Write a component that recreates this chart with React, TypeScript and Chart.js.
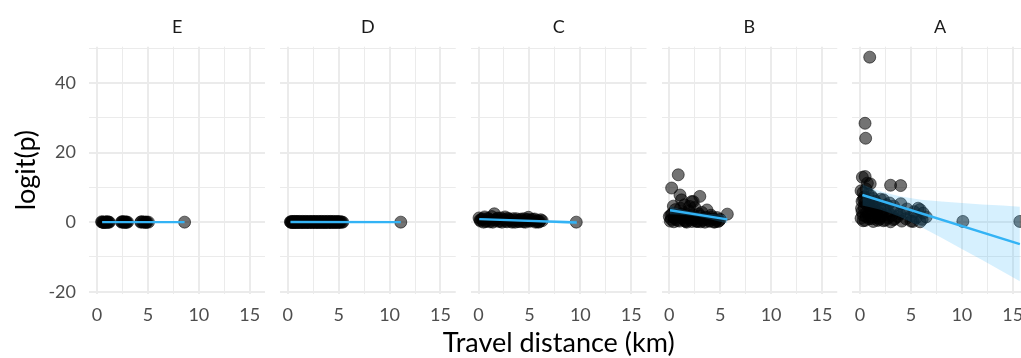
import React, { useEffect, useRef } from "react";
import { Chart, registerables } from "chart.js";

Chart.register(...registerables);

// ---------- tick labels / axis text ----------
const facetLabels = ["E", "D", "C", "B", "A"];
const xTickValues = [0, 2.5, 5, 7.5, 10, 12.5, 15];
const xLabeledTicks = [0, 5, 10, 15];
const yTickValues = [-20, -10, 0, 10, 20, 30, 40, 50];
const yLabeledTicks = [-20, 0, 20, 40];
const xLimits = [-0.76, 16.5];
const yLimits = [-20.5, 50.4];
const xTitle = "Travel distance (km)";
const yTitle = "logit(p)";

// ---------- facet E ----------
const eDist = [0.45, 0.5, 0.6, 0.65, 0.75, 0.85, 0.9, 1.0, 1.05, 1.15, 1.2, 2.4, 2.45, 2.55, 2.6, 2.7, 2.75, 2.85, 2.9, 3.0, 4.3, 4.35, 4.5, 4.6, 4.75, 4.8, 4.9, 5.05, 8.6];
const eLogit = [0.1, 0, 0, -0.1, -0.1, 0.1, 0, 0, 0.05, 0, 0, 0, 0.1, 0.1, 0, -0.05, 0.05, 0, 0, 0, 0, 0.1, 0.05, 0, -0.05, 0, 0, 0, 0];
const eFitDist = [0.5, 8.6];
const eFitLogit = [0, 0];

// ---------- facet D ----------
const dDist = [0.26, 0.3, 0.35, 0.4, 0.45, 0.5, 0.55, 0.6, 0.65, 0.7, 0.75, 0.8, 0.85, 0.9, 0.95, 1.0, 1.05, 1.1, 1.15, 1.2, 1.3, 1.35, 1.4, 1.45, 1.5, 1.55, 1.6, 1.7, 1.75, 1.8, 1.85, 1.9, 1.95, 2.0, 2.1, 2.15, 2.2, 2.25, 2.3, 2.4, 2.45, 2.5, 2.55, 2.6, 2.7, 2.75, 2.8, 2.85, 2.9, 3.0, 3.05, 3.1, 3.15, 3.2, 3.3, 3.35, 3.4, 3.45, 3.5, 3.6, 3.65, 3.7, 3.75, 3.8, 3.9, 3.95, 4.0, 4.1, 4.15, 4.2, 4.25, 4.3, 4.4, 4.45, 4.5, 4.6, 4.65, 4.7, 4.8, 4.85, 4.9, 5.0, 5.05, 5.1, 5.2, 5.3, 5.4, 11.1];
const dLogit = [0.1, 0, -0.1, 0.2, 0, 0.1, -0.1, 0, 0.2, 0, -0.1, 0.1, 0, 0.2, 0, -0.1, 0.1, 0, 0.2, 0, -0.1, 0, 0.1, 0.2, 0, -0.1, 0, 0.1, 0.2, 0, -0.1, 0, 0.1, 0, 0.2, -0.1, 0, 0.1, 0, 0.2, -0.1, 0, 0.1, 0, 0.2, 0, -0.1, 0.1, 0, 0.2, -0.1, 0, 0.1, 0, 0.2, 0, -0.1, 0.1, 0, 0.2, 0, -0.1, 0, 0.1, 0.2, 0, -0.1, 0.1, 0, 0.2, 0, -0.1, 0.1, 0, 0.2, 0, -0.1, 0, 0.1, 0.2, 0, -0.1, 0.1, 0, 0.1, 0, 0, 0];
const dFitDist = [0.26, 11.1];
const dFitLogit = [0.05, 0];

// ---------- facet C ----------
const cDist = [0.05, 0.2, 0.3, 0.5, 0.6, 0.8, 1.0, 1.1, 1.3, 1.55, 1.6, 1.8, 2.0, 2.2, 2.4, 2.6, 2.8, 3.0, 3.2, 3.4, 3.6, 3.8, 4.0, 4.2, 4.4, 4.7, 4.9, 5.1, 5.3, 5.6, 5.8, 6.0, 6.25, 0.15, 0.4, 0.7, 0.9, 1.2, 1.4, 1.7, 1.9, 2.1, 2.3, 2.5, 2.7, 2.9, 3.1, 3.3, 3.5, 3.7, 3.9, 4.1, 4.3, 4.5, 4.6, 4.8, 5.0, 5.2, 5.5, 5.7, 5.9, 6.1, 9.6];
const cLogit = [1.2, 0.3, 0.8, 0.0, 1.5, 0.4, 0.9, 0.1, 1.6, 2.4, 0.5, 1.0, 0.2, 1.2, 0.6, 1.5, 0.1, 0.8, 0.3, 1.0, 0.0, 0.6, 0.2, 0.9, 0.1, 0.5, 1.4, 0.3, 0.8, 0.0, 0.5, 0.2, 0.4, 0.6, 1.0, 0.2, 1.1, 0.5, 0.0, 0.7, 1.2, 0.4, 0.0, 0.9, 0.3, 1.1, 0.6, 0.0, 0.5, 1.0, 0.2, 0.7, 0.4, 1.0, 0.0, 0.8, 0.3, 0.6, 0.9, 0.2, 0.0, 0.7, 0.0];
const cFitDist = [0.07, 9.65];
const cFitLogit = [0.86, -0.1];
const cBandDist = [0.07, 2, 4, 6, 8, 9.65];
const cBandLow = [0.6, 0.48, 0.28, 0.0, -0.4, -0.7];
const cBandHigh = [1.12, 0.84, 0.64, 0.52, 0.52, 0.5];

// ---------- facet B ----------
const bDist = [0.88, 0.23, 1.05, 3.0, 1.2, 2.2, 2.35, 1.5, 3.7, 5.7, 0.0, 0.1, 0.3, 0.5, 0.6, 0.8, 0.9, 1.1, 1.3, 1.4, 1.6, 1.8, 1.9, 2.1, 2.3, 2.5, 2.6, 2.8, 3.0, 3.2, 3.4, 3.6, 3.9, 4.1, 4.3, 4.5, 4.7, 4.9, 5.0, 0.4, 2.0, 0.2, 0.45, 0.7, 1.0, 1.25, 1.5, 1.7, 2.0, 2.2, 2.4, 2.7, 2.9, 3.1, 3.3, 3.5, 3.8, 4.0, 4.2, 4.4, 4.6, 4.8, 0.15, 0.65, 1.15, 1.65, 2.15, 2.65, 3.25];
const bLogit = [13.6, 9.8, 7.8, 7.4, 6.4, 5.9, 5.9, 5.0, 3.5, 2.3, 1.6, 0.3, 2.5, 1.2, 3.6, 0.5, 2.0, 4.0, 1.1, 2.8, 0.2, 1.6, 3.3, 0.7, 2.2, 4.2, 1.0, 0.2, 1.8, 2.8, 0.6, 1.4, 0.3, 2.0, 0.9, 0.1, 1.3, 0.4, 0.8, 4.6, 4.5, 0.8, 0.1, 1.5, 0.3, 2.2, 0.6, 0.0, 1.2, 0.2, 0.9, 0.4, 2.4, 0.1, 1.1, 0.0, 0.8, 0.3, 1.5, 0.0, 0.5, 0.2, 2.0, 0.9, 1.7, 0.4, 1.3, 0.2, 0.5];
const bFitDist = [0.07, 5.7];
const bFitLogit = [3.4, 0.8];
const bBandDist = [0.07, 1, 2, 3, 4, 5, 5.7];
const bBandLow = [2.3, 2.17, 1.91, 1.45, 0.84, 0.13, -0.4];
const bBandHigh = [4.5, 3.77, 3.11, 2.65, 2.34, 2.13, 2.0];

// ---------- facet A ----------
const aDist = [0.95, 0.49, 0.55, 0.23, 0.5, 0.72, 1.0, 3.0, 3.99, 0.1, 0.3, 0.6, 0.4, 0.2, 0.8, 1.1, 1.3, 0.5, 0.9, 0.15, 1.5, 1.7, 2.0, 2.3, 2.6, 2.9, 1.2, 0.7, 0.3, 0.1, 1.65, 2.1, 2.4, 3.3, 3.6, 4.0, 4.3, 4.6, 5.0, 5.3, 5.7, 5.9, 6.2, 6.5, 1.3, 0.9, 1.9, 2.3, 2.8, 3.3, 3.7, 4.1, 4.5, 5.0, 5.2, 5.5, 5.9, 6.1, 0.5, 1.5, 2.6, 3.0, 0.2, 0.4, 0.6, 0.8, 1.0, 1.2, 1.4, 1.6, 1.8, 2.0, 2.2, 2.5, 2.7, 3.1, 3.4, 3.9, 0.3, 0.7, 1.1, 1.4, 0.35, 0.85, 1.25, 1.75, 10.1, 15.7];
const aLogit = [47.4, 28.4, 24.1, 12.9, 13.1, 11.2, 11.0, 10.6, 10.5, 9.0, 8.5, 9.5, 7.2, 6.0, 8.0, 7.5, 6.8, 5.5, 4.8, 4.0, 6.0, 5.2, 6.6, 6.4, 5.0, 5.5, 3.6, 2.8, 2.0, 1.1, 3.0, 2.4, 3.6, 4.6, 3.2, 5.3, 2.6, 3.8, 1.8, 3.0, 4.0, 3.6, 2.6, 1.5, 0.2, 1.0, 0.8, 0.4, 1.3, 0.7, 1.6, 0.3, 1.0, 0.3, 0.2, 1.2, 0.1, 0.8, 0.5, 1.8, 2.2, 0.1, 3.0, 4.2, 1.6, 2.2, 3.4, 1.0, 4.4, 2.5, 1.2, 3.6, 1.9, 0.6, 3.1, 2.0, 1.0, 2.4, 0.4, 5.0, 1.4, 3.8, 6.5, 6.0, 4.6, 0.5, 0.2, 0.2];
const aFitDist = [0.23, 15.7];
const aFitLogit = [7.8, -6.3];
const aBandDist = [0.23, 1, 2, 3, 4, 6, 8, 10, 12, 14, 15.7];
const aBandLow = [4.8, 4.3, 3.55, 2.55, 1.4, -1.4, -4.5, -7.7, -10.9, -14.2, -17.0];
const aBandHigh = [10.8, 9.9, 8.85, 8.05, 7.4, 6.4, 5.9, 5.5, 5.1, 4.8, 4.4];

// ---------- layout & style (not data) ----------
const CANVAS_W = 1040;
const CANVAS_H = 358;
const PANEL_LEFT0 = 89.3;
const PANEL_STEP = 190.75;
const PANEL_W = 175.7;
const PANEL_TOP = 46.7;
const PANEL_BOTTOM = 293.5;
const FONT = "Lato, 'Open Sans', sans-serif";
const GRID = "#EBEBEB";
const POINT_FILL = "rgba(0,0,0,0.55)";
const POINT_EDGE = "rgba(0,0,0,0.55)";
const LINE_COLOR = "#33B3F5";
const BAND_COLOR = "rgba(51,181,250,0.2)";

type Facet = {
  label: string;
  dist: number[];
  logit: number[];
  fitDist: number[];
  fitLogit: number[];
  bandDist?: number[];
  bandLow?: number[];
  bandHigh?: number[];
};

const facets: Facet[] = [
  { label: facetLabels[0], dist: eDist, logit: eLogit, fitDist: eFitDist, fitLogit: eFitLogit },
  { label: facetLabels[1], dist: dDist, logit: dLogit, fitDist: dFitDist, fitLogit: dFitLogit },
  { label: facetLabels[2], dist: cDist, logit: cLogit, fitDist: cFitDist, fitLogit: cFitLogit, bandDist: cBandDist, bandLow: cBandLow, bandHigh: cBandHigh },
  { label: facetLabels[3], dist: bDist, logit: bLogit, fitDist: bFitDist, fitLogit: bFitLogit, bandDist: bBandDist, bandLow: bBandLow, bandHigh: bBandHigh },
  { label: facetLabels[4], dist: aDist, logit: aLogit, fitDist: aFitDist, fitLogit: aFitLogit, bandDist: aBandDist, bandLow: aBandLow, bandHigh: aBandHigh },
];

const toXY = (xs: number[], ys: number[]) => xs.map((x, i) => ({ x, y: ys[i] }));

const xTitlePlugin = {
  id: "facetXTitle",
  afterDraw(chart: any) {
    const { ctx, chartArea } = chart;
    ctx.save();
    ctx.font = `27px ${FONT}`;
    ctx.fillStyle = "#000000";
    ctx.textAlign = "center";
    ctx.textBaseline = "alphabetic";
    ctx.fillText(xTitle, (chartArea.left + chartArea.right) / 2, 352);
    ctx.restore();
  },
};

function buildConfig(f: Facet, i: number): any {
  const panelLeft = PANEL_LEFT0 + i * PANEL_STEP;
  const first = i === 0;
  const datasets: any[] = [];
  datasets.push({
    type: "line",
    data: toXY(f.fitDist, f.fitLogit),
    borderColor: LINE_COLOR,
    borderWidth: 2.4,
    pointRadius: 0,
    fill: false,
    order: 0,
  });
  if (f.bandDist && f.bandLow && f.bandHigh) {
    datasets.push({
      type: "line",
      data: toXY(f.bandDist, f.bandHigh),
      borderWidth: 0,
      borderColor: "rgba(0,0,0,0)",
      backgroundColor: BAND_COLOR,
      pointRadius: 0,
      fill: "+1",
      order: 1,
    });
    datasets.push({
      type: "line",
      data: toXY(f.bandDist, f.bandLow),
      borderWidth: 0,
      borderColor: "rgba(0,0,0,0)",
      pointRadius: 0,
      fill: false,
      order: 1,
    });
  }
  datasets.push({
    type: "scatter",
    data: toXY(f.dist, f.logit),
    pointRadius: 6,
    pointHoverRadius: 6,
    backgroundColor: POINT_FILL,
    borderColor: POINT_EDGE,
    borderWidth: 1,
    order: 5,
  });

  return {
    type: "scatter",
    data: { datasets },
    plugins: i === 2 ? [xTitlePlugin] : [],
    options: {
      animation: false,
      responsive: false,
      devicePixelRatio: 1,
      events: [],
      layout: {
        padding: {
          left: first ? 0 : panelLeft,
          right: CANVAS_W - (panelLeft + PANEL_W),
          top: 0,
          bottom: 0,
        },
      },
      plugins: {
        legend: { display: false },
        tooltip: { enabled: false },
        title: {
          display: true,
          text: f.label,
          fullSize: false,
          color: "#1A1A1A",
          font: { family: FONT, size: 18, weight: "normal" },
          padding: { top: 15.9, bottom: PANEL_TOP - 21.6 - 15.9 },
        },
      },
      scales: {
        x: {
          type: "linear",
          min: xLimits[0],
          max: xLimits[1],
          afterBuildTicks: (s: any) => {
            s.ticks = xTickValues.map((v) => ({ value: v }));
          },
          afterFit: (s: any) => {
            s.height = CANVAS_H - PANEL_BOTTOM;
          },
          border: { display: false },
          grid: {
            color: GRID,
            drawTicks: false,
            lineWidth: (c: any) => (c.tick && xLabeledTicks.includes(c.tick.value) ? 2 : 1),
          },
          ticks: {
            autoSkip: false,
            maxRotation: 0,
            minRotation: 0,
            padding: 10.7,
            color: "#4D4D4D",
            font: { family: FONT, size: 18 },
            callback: (v: any) => (xLabeledTicks.includes(v) ? String(v) : ""),
          },
        },
        y: {
          type: "linear",
          min: yLimits[0],
          max: yLimits[1],
          afterBuildTicks: (s: any) => {
            s.ticks = yTickValues.map((v) => ({ value: v }));
          },
          afterFit: (s: any) => {
            s.width = first ? PANEL_LEFT0 : 0;
          },
          border: { display: false },
          grid: {
            color: GRID,
            drawTicks: false,
            lineWidth: (c: any) => (c.tick && yLabeledTicks.includes(c.tick.value) ? 2 : 1),
          },
          title: first
            ? {
                display: true,
                text: yTitle,
                color: "#000000",
                font: { family: FONT, size: 27 },
                padding: { top: 9.8, bottom: 0 },
              }
            : { display: false },
          ticks: {
            display: first,
            autoSkip: false,
            padding: 13.3,
            color: "#4D4D4D",
            font: { family: FONT, size: 18 },
            callback: (v: any) => (yLabeledTicks.includes(v) ? String(v) : ""),
          },
        },
      },
    },
  };
}

export default function App() {
  const refs = useRef<(HTMLCanvasElement | null)[]>([]);
  useEffect(() => {
    const charts = facets.map((f, i) => new Chart(refs.current[i] as HTMLCanvasElement, buildConfig(f, i)));
    return () => charts.forEach((c) => c.destroy());
  }, []);
  return (
    <div
      style={{
        position: "fixed",
        left: 0,
        top: 0,
        width: 1021,
        height: 358,
        overflow: "hidden",
        background: "#ffffff",
      }}
    >
      {facets.map((f, i) => (
        <canvas
          key={f.label}
          ref={(el) => {
            refs.current[i] = el;
          }}
          width={CANVAS_W}
          height={CANVAS_H}
          style={{ position: "absolute", left: 0, top: 0, width: CANVAS_W, height: CANVAS_H }}
        />
      ))}
    </div>
  );
}
